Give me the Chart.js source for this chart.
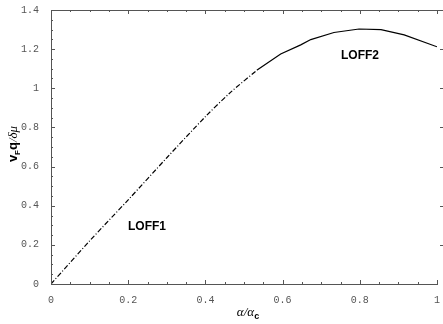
<!DOCTYPE html>
<html lang="en">
  <head>
    <meta charset="UTF-8" />
    <title>LOFF velocity</title>
    <style>
      body {
        margin: 0;
        background-color: #ffffff;
      }
      .chart-container {
        position: relative;
        width: 443px;
        height: 324px;
      }
    </style>
  </head>
  <body>
    <div class="chart-container">
      <canvas id="loffChart"></canvas>
    </div>
    <script src="https://cdn.jsdelivr.net/npm/chart.js"></script>
    <script>
      // LOFF1 branch (dash-dot) and LOFF2 branch (solid)
      const alphaLoff1 = [0, 0.1, 0.2, 0.3, 0.4, 0.465, 0.534];
      const velLoff1 = [0, 0.22, 0.43, 0.645, 0.855, 0.979, 1.093];
      const alphaLoff2 = [0.534, 0.595, 0.647, 0.673, 0.733, 0.798, 0.855, 0.915, 1.0];
      const velLoff2 = [1.093, 1.175, 1.222, 1.249, 1.285, 1.303, 1.3, 1.273, 1.212];

      const xTicks = [0, 0.2, 0.4, 0.6, 0.8, 1];
      const yTicks = [0, 0.2, 0.4, 0.6, 0.8, 1, 1.2, 1.4];

      const toPoints = (xs, ys) => xs.map((x, i) => ({ x: x, y: ys[i] }));

      const tickFont = { family: "'Liberation Mono', 'DejaVu Sans Mono', monospace", size: 10 };

      // frame ticks, top border, axis titles and branch labels
      const decorations = {
        id: "decorations",
        afterDraw(chart) {
          const ctx = chart.ctx;
          const xs = chart.scales.x;
          const ys = chart.scales.y;
          const a = chart.chartArea;
          ctx.save();
          ctx.strokeStyle = "#555";
          ctx.lineWidth = 1;
          ctx.beginPath();
          ctx.moveTo(a.left, a.top + 0.5);
          ctx.lineTo(443, a.top + 0.5);
          for (let i = 0; i <= 20; i++) {
            const v = i * 0.05;
            const px = Math.round(xs.getPixelForValue(v)) + 0.5;
            const len = i % 4 === 0 ? 4 : 2;
            ctx.moveTo(px, a.bottom);
            ctx.lineTo(px, a.bottom - len);
            ctx.moveTo(px, a.top);
            ctx.lineTo(px, a.top + len);
          }
          for (let i = 0; i <= 28; i++) {
            const v = i * 0.05;
            const py = Math.round(ys.getPixelForValue(v)) + 0.5;
            const len = i % 4 === 0 ? 4 : 2;
            ctx.moveTo(a.left, py);
            ctx.lineTo(a.left + len, py);
            if (i % 4 === 0 && i > 0 && i < 28) {
              ctx.moveTo(440, py);
              ctx.lineTo(443, py);
            }
          }
          ctx.stroke();

          ctx.fillStyle = "#000";
          ctx.textBaseline = "middle";
          ctx.textAlign = "center";
          ctx.font = "bold 12px 'Liberation Sans', Arial, sans-serif";
          ctx.fillText("LOFF1", 147, 227);
          ctx.fillText("LOFF2", 360, 56);

          // x title: α/α_c
          const serif = "italic 13px 'Liberation Serif', 'DejaVu Serif', serif";
          const subBold = "bold 9px 'Liberation Sans', Arial, sans-serif";
          ctx.textAlign = "left";
          ctx.textBaseline = "alphabetic";
          ctx.font = serif;
          const w1 = ctx.measureText("α/α").width;
          ctx.font = subBold;
          const w2 = ctx.measureText("c").width;
          let x0 = 248 - (w1 + w2) / 2;
          ctx.font = serif;
          ctx.fillText("α/α", x0, 316);
          ctx.font = subBold;
          ctx.fillText("c", x0 + w1, 319);

          // y title: v_F q/δμ
          ctx.translate(17, 144);
          ctx.rotate(-Math.PI / 2);
          const big = "bold 13px 'Liberation Sans', Arial, sans-serif";
          const sub = "bold 8px 'Liberation Sans', Arial, sans-serif";
          const parts = [
            ["v", big, 0],
            ["F", sub, 3],
            ["q", big, 0],
            ["/δμ", serif, 0],
          ];
          let total = 0;
          parts.forEach((p) => {
            ctx.font = p[1];
            total += ctx.measureText(p[0]).width;
          });
          let cx = -total / 2;
          parts.forEach((p) => {
            ctx.font = p[1];
            ctx.fillText(p[0], cx, p[2]);
            cx += ctx.measureText(p[0]).width;
          });
          ctx.restore();
        },
      };

      const config = {
        type: "scatter",
        data: {
          datasets: [
            {
              label: "LOFF1",
              data: toPoints(alphaLoff1, velLoff1),
              showLine: true,
              borderColor: "#000",
              borderWidth: 1.2,
              borderDash: [5, 2, 1, 2],
              pointRadius: 0,
              tension: 0.3,
            },
            {
              label: "LOFF2",
              data: toPoints(alphaLoff2, velLoff2),
              showLine: true,
              borderColor: "#000",
              borderWidth: 1.2,
              pointRadius: 0,
            },
          ],
        },
        options: {
          responsive: true,
          maintainAspectRatio: false,
          animation: false,
          layout: { padding: { top: 9, right: 6, left: 0, bottom: 0 } },
          plugins: {
            legend: { display: false },
            tooltip: { enabled: false },
          },
          scales: {
            x: {
              type: "linear",
              min: 0,
              max: 1,
              afterFit: (scale) => {
                scale.height = 40;
              },
              afterBuildTicks: (scale) => {
                scale.ticks = xTicks.map((v) => ({ value: v }));
              },
              grid: { display: false },
              border: { display: true, color: "#555", width: 1 },
              ticks: {
                font: tickFont,
                color: "#555",
                padding: 2,
                maxRotation: 0,
                callback: (v) => String(parseFloat(v.toFixed(1))),
              },
            },
            y: {
              type: "linear",
              min: 0,
              max: 1.4,
              afterFit: (scale) => {
                scale.width = 51;
              },
              afterBuildTicks: (scale) => {
                scale.ticks = yTicks.map((v) => ({ value: v }));
              },
              grid: { display: false },
              border: { display: true, color: "#555", width: 1 },
              ticks: {
                font: tickFont,
                color: "#555",
                padding: 4,
                callback: (v) => String(parseFloat(v.toFixed(1))),
              },
            },
          },
        },
        plugins: [decorations],
      };

      new Chart(document.getElementById("loffChart"), config);
    </script>
  </body>
</html>
